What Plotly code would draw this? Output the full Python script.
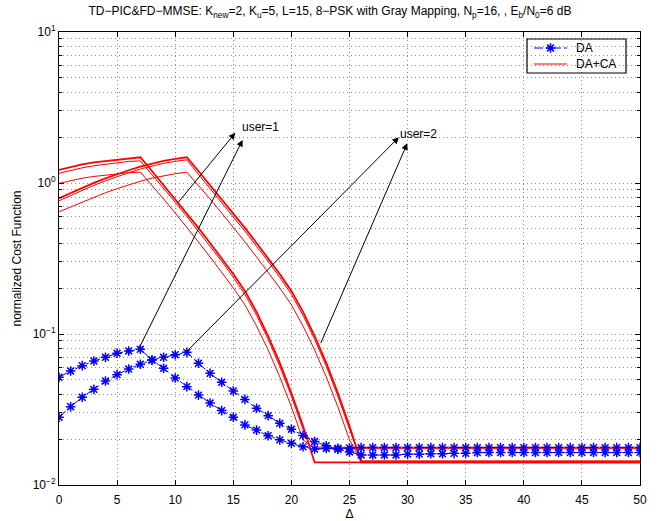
import math
import plotly.graph_objects as go

# Delay axis
delta = list(range(0, 51))

# DA cost function (blue, one curve per user)
da_user1 = [0.0517, 0.0569, 0.0617, 0.0663, 0.0701, 0.0745, 0.0772, 0.0792, 0.0673, 0.0593,
            0.0511, 0.0448, 0.0394, 0.0349, 0.0311, 0.0281, 0.0250, 0.0231, 0.0212, 0.0199,
            0.0189, 0.0179, 0.0173, 0.01745, 0.0175, 0.0176] + [0.0177] * 25
da_user2 = [0.0281, 0.0330, 0.0381, 0.0430, 0.0488, 0.0538, 0.0586, 0.0630, 0.0673, 0.0701,
            0.0729, 0.0756, 0.0640, 0.0549, 0.0479, 0.0419, 0.0369, 0.0322, 0.0288, 0.0256,
            0.0234, 0.0213, 0.0194, 0.0182, 0.0172, 0.01654, 0.0158, 0.0158, 0.0158, 0.0158,
            0.0160, 0.0160, 0.0161, 0.0161, 0.0162, 0.0162] + [0.0164] * 15

# DA+CA cost function (red), three curves per user
ca_u1a = [1.22, 1.28, 1.33, 1.37, 1.40, 1.43, 1.46, 1.48, 1.20, 0.970, 0.783, 0.633, 0.504,
          0.401, 0.319, 0.250, 0.193, 0.140, 0.0970, 0.0643, 0.0407, 0.0246] + [0.0141] * 29
ca_u1b = [1.16, 1.21, 1.26, 1.30, 1.33, 1.36, 1.39, 1.40, 1.14, 0.920, 0.745, 0.600, 0.480,
          0.380, 0.303, 0.237, 0.183, 0.133, 0.0922, 0.0611, 0.0387, 0.0234] + [0.0178] * 29
ca_u1c = [0.995, 1.04, 1.075, 1.105, 1.13, 1.15, 1.17, 1.18, 0.970, 0.784, 0.633, 0.511, 0.407,
          0.324, 0.258, 0.202, 0.156, 0.113, 0.0784, 0.0520, 0.0329, 0.0199] + [0.0174] * 29
ca_u2a = [0.792, 0.860, 0.930, 1.002, 1.073, 1.145, 1.215, 1.284, 1.348, 1.402, 1.444, 1.48,
          1.20, 0.970, 0.783, 0.633, 0.504, 0.401, 0.319, 0.250, 0.193, 0.140, 0.0970, 0.0643,
          0.0407, 0.0246] + [0.0141] * 25
ca_u2b = [0.763, 0.828, 0.896, 0.965, 1.033, 1.103, 1.170, 1.237, 1.298, 1.350, 1.391, 1.425,
          1.14, 0.920, 0.745, 0.600, 0.480, 0.380, 0.303, 0.237, 0.183, 0.133, 0.0922, 0.0611,
          0.0387, 0.0234] + [0.0144] * 25
ca_u2c = [0.645, 0.695, 0.750, 0.806, 0.862, 0.918, 0.973, 1.027, 1.077, 1.119, 1.152, 1.18,
          0.970, 0.784, 0.633, 0.511, 0.407, 0.324, 0.258, 0.202, 0.156, 0.113, 0.0784, 0.0520,
          0.0329, 0.0199] + [0.0144] * 25

# Labels with arrows: label position, arrow heads, arrow tails
user_labels = ["user=1", "user=2"]
label_pos = [(15.6, 2.35), (29.2, 2.11)]
arrow_heads = [[(15.17, 2.15), (15.8, 1.93)], [(29.25, 2.01), (29.97, 1.83)]]
arrow_tails = [[(10.15, 0.726), (6.84, 0.0792)], [(10.93, 0.0757), (22.47, 0.085)]]

# Legend entries
legend_names = ["DA", "DA+CA"]

FONT = "Liberation Sans, Arial, Helvetica, sans-serif"
RED = "#ff0000"
BLUE = "#0000ff"
GRID = "#8c8c8c"

fig = go.Figure()

red_curves = [(ca_u1a, 1.8), (ca_u1b, 1.0), (ca_u1c, 1.0),
              (ca_u2a, 1.8), (ca_u2b, 1.0), (ca_u2c, 1.0)]
for ys, w in red_curves:
    fig.add_trace(go.Scatter(
        x=delta, y=ys, mode="lines", line=dict(color=RED, width=w),
        showlegend=False, hoverinfo="skip"))

da_marker = dict(symbol="asterisk-open", size=8, color=BLUE,
                 line=dict(color=BLUE, width=1.5))
for ys in [da_user1, da_user2]:
    fig.add_trace(go.Scatter(
        x=delta, y=ys, mode="lines+markers", showlegend=False,
        line=dict(color=BLUE, width=1, dash="dashdot"), marker=da_marker))

# Arrows and their labels
for txt, (lx, ly), heads, tails in zip(user_labels, label_pos, arrow_heads, arrow_tails):
    fig.add_annotation(x=lx, y=math.log10(ly), text=txt, showarrow=False,
                       xanchor="left", yanchor="middle",
                       font=dict(family=FONT, size=12, color="black"))
    for (hx, hy), (tx, ty) in zip(heads, tails):
        fig.add_annotation(x=hx, y=math.log10(hy), ax=tx, ay=math.log10(ty),
                           xref="x", yref="y", axref="x", ayref="y",
                           text="", showarrow=True, arrowhead=2, arrowsize=1.3,
                           arrowwidth=1, arrowcolor="black")

# Legend: white box over the grid, samples on an overlay axis, framed on top
box = dict(x0=(527 - 59) / 581, x1=(626 - 59) / 581,
           y0=(485 - 73) / 453, y1=(485 - 39) / 453)
fig.add_shape(type="rect", xref="paper", yref="paper", **box,
              line=dict(width=0), fillcolor="white", layer="between")
fig.add_shape(type="rect", xref="paper", yref="paper", **box,
              line=dict(color="black", width=1.2), fillcolor="rgba(0,0,0,0)", layer="above")
leg_y = [(485 - 48) / 453, (485 - 64) / 453]
seg_x0, seg_x1 = (534 - 59) / 581, (567 - 59) / 581
fig.add_trace(go.Scatter(
    x=[seg_x0, seg_x1], y=[leg_y[0]] * 2,
    xaxis="x2", yaxis="y2", showlegend=False, hoverinfo="skip",
    mode="lines", line=dict(color=BLUE, width=1, dash="dashdot")))
fig.add_trace(go.Scatter(
    x=[(seg_x0 + seg_x1) / 2], y=[leg_y[0]],
    xaxis="x2", yaxis="y2", showlegend=False, hoverinfo="skip",
    mode="markers", marker=da_marker))
fig.add_trace(go.Scatter(
    x=[seg_x0, seg_x1], y=[leg_y[1]] * 2,
    xaxis="x2", yaxis="y2", showlegend=False, hoverinfo="skip",
    mode="lines", line=dict(color=RED, width=1)))
for name, yy in zip(legend_names, leg_y):
    fig.add_annotation(x=(574 - 59) / 581, y=yy, xref="paper", yref="paper",
                       text=name, showarrow=False, xanchor="left", yanchor="middle",
                       font=dict(family=FONT, size=12, color="black"))

grid = dict(gridcolor=GRID, griddash="1px,3px", gridwidth=1)
minor_vals = [m * 10 ** e for e in (-2, -1, 0) for m in range(2, 10)]

fig.update_layout(
    width=662, height=521,
    margin=dict(l=59, r=22, t=32, b=36, autoexpand=False),
    paper_bgcolor="white", plot_bgcolor="white",
    font=dict(family=FONT, size=12, color="black"),
    title=dict(
        text="TD\u2212PIC&FD\u2212MMSE: K<sub>new</sub>=2, K<sub>u</sub>=5, L=15, 8\u2212PSK with Gray Mapping, "
             "N<sub>p</sub>=16, , E<sub>b</sub>/N<sub>0</sub>=6 dB",
        x=330 / 662, xref="container", xanchor="center",
        y=1 - 11 / 521, yref="container", yanchor="middle",
        font=dict(family=FONT, size=12)),
    showlegend=False,
    xaxis=dict(
        range=[0, 50], dtick=5, tick0=0, automargin=False,
        ticks="inside", ticklen=5, tickcolor="black",
        showline=True, linecolor="black", linewidth=1, mirror="ticks",
        zeroline=False, showgrid=True, **grid,
        ticklabelstandoff=4,
        title=dict(text="\u0394", standoff=6, font=dict(size=12)),
        tickfont=dict(size=12),
    ),
    yaxis=dict(
        type="log", range=[-2, 1], automargin=False,
        tickmode="array",
        tickvals=[0.01, 0.1, 1, 10],
        ticktext=["10<sup>\u22122</sup>", "10<sup>\u22121</sup>", "10<sup>0</sup>", "10<sup>1</sup>"],
        ticks="inside", ticklen=5, tickcolor="black",
        showline=True, linecolor="black", linewidth=1, mirror="ticks",
        zeroline=False, showgrid=True, **grid,
        minor=dict(tickmode="array", tickvals=minor_vals, ticks="inside", ticklen=3,
                   tickcolor="black", showgrid=True, gridcolor=GRID,
                   griddash="1px,3px", gridwidth=1),
        title=dict(text="normalized Cost Function", standoff=8, font=dict(size=12)),
        tickfont=dict(size=12),
    ),
    xaxis2=dict(domain=[0, 1], range=[0, 1], overlaying="x", visible=False, fixedrange=True),
    yaxis2=dict(domain=[0, 1], range=[0, 1], overlaying="y", visible=False, fixedrange=True,
                anchor="x2"),
)

fig.write_html("out.html")
